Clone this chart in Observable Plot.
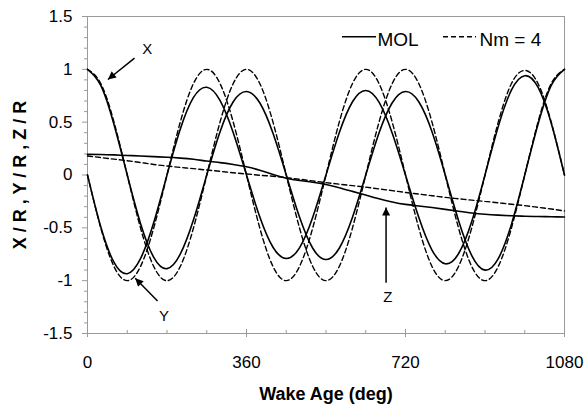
<!DOCTYPE html>
<html><head><meta charset="utf-8">
<script src="https://cdn.jsdelivr.net/npm/d3@7"></script>
<script src="https://cdn.jsdelivr.net/npm/@observablehq/plot@0.6"></script>
<style>
html,body{margin:0;padding:0;background:#fff;}
#chart{width:586px;height:407px;}
</style></head><body><div id="chart"></div>
<script>
const wakeAge = [0,30,60,90,120,150,180,210,240,270,300,330,360,390,420,450,480,510,540,570,600,630,660,690,720,750,780,810,840,870,900,930,960,990,1020,1050,1080];
const xMOL = [1.0,0.849,0.478,0,-0.458,-0.779,-0.886,-0.749,-0.424,0,0.408,0.693,0.79,0.684,0.395,0,-0.398,-0.693,-0.80,-0.693,-0.40,0,0.398,0.684,0.79,0.693,0.41,0,-0.43,-0.762,-0.90,-0.792,-0.465,0,0.48,0.849,1.0];
const yMOL = [0,-0.49,-0.827,-0.934,-0.792,-0.45,0,0.433,0.734,0.83,0.706,0.40,0,-0.395,-0.684,-0.79,-0.689,-0.40,0,0.40,0.693,0.80,0.689,0.395,0,-0.40,-0.71,-0.84,-0.745,-0.44,0,0.458,0.805,0.94,0.831,0.49,0];
const zMOL = [0.195,0.194,0.19,0.185,0.18,0.174,0.168,0.16,0.149,0.132,0.117,0.10,0.078,0.045,0.005,-0.03,-0.052,-0.068,-0.09,-0.12,-0.155,-0.19,-0.225,-0.255,-0.278,-0.293,-0.308,-0.325,-0.343,-0.36,-0.372,-0.38,-0.386,-0.39,-0.393,-0.395,-0.397];
const xNm4 = [1,0.866,0.5,0,-0.5,-0.866,-1,-0.866,-0.5,0,0.5,0.866,1,0.866,0.5,0,-0.5,-0.866,-1,-0.866,-0.5,0,0.5,0.866,1,0.866,0.5,0,-0.5,-0.866,-1,-0.866,-0.5,0,0.5,0.866,1];
const yNm4 = [0,-0.5,-0.866,-1,-0.866,-0.5,0,0.5,0.866,1,0.866,0.5,0,-0.5,-0.866,-1,-0.866,-0.5,0,0.5,0.866,1,0.866,0.5,0,-0.5,-0.866,-1,-0.866,-0.5,0,0.5,0.866,0.99,0.866,0.5,0];
const zNm4 = [0.18,0.165,0.15,0.135,0.118,0.10,0.085,0.072,0.06,0.047,0.035,0.021,0.01,-0.002,-0.012,-0.025,-0.04,-0.056,-0.072,-0.087,-0.101,-0.115,-0.132,-0.148,-0.165,-0.18,-0.196,-0.212,-0.225,-0.238,-0.25,-0.263,-0.277,-0.29,-0.306,-0.322,-0.34];

const seriesNames = ["MOL", "Nm = 4"];
const xMajor = [0, 360, 720, 1080];
const xMinor = [90,180,270,450,540,630,810,900,990];
const yMajor = [-1.5,-1,-0.5,0,0.5,1,1.5];
const yMinor = [-1.4,-1.3,-1.2,-1.1,-0.9,-0.8,-0.7,-0.6,-0.4,-0.3,-0.2,-0.1,0.1,0.2,0.3,0.4,0.6,0.7,0.8,0.9,1.1,1.2,1.3,1.4];

const annoLabels = ["X", "Y", "Z"];
const annoTextAge = [135, 173, 680];
const annoTextVal = [1.19, -1.338, -1.155];
const arrowFromAge = [106.5, 158.6, 676];
const arrowFromVal = [1.106, -1.193, -1.019];
const arrowToAge = [46.2, 108.1, 676];
const arrowToVal = [0.904, -0.977, -0.307];

const rows = [];
wakeAge.forEach((a, i) => {
  rows.push({age: a, v: xMOL[i], s: seriesNames[0], c: "X"});
  rows.push({age: a, v: yMOL[i], s: seriesNames[0], c: "Y"});
  rows.push({age: a, v: zMOL[i], s: seriesNames[0], c: "Z"});
  rows.push({age: a, v: xNm4[i], s: seriesNames[1], c: "X"});
  rows.push({age: a, v: yNm4[i], s: seriesNames[1], c: "Y"});
  rows.push({age: a, v: zNm4[i], s: seriesNames[1], c: "Z"});
});
const arrows = annoLabels.map((l, i) => ({x1: arrowFromAge[i], y1: arrowFromVal[i], x2: arrowToAge[i], y2: arrowToVal[i]}));

const grey = "#9a9a9a";
const svg = Plot.plot({
  width: 586, height: 407,
  marginLeft: 87, marginRight: 22, marginTop: 16, marginBottom: 74,
  style: {fontFamily: "Liberation Sans, Arial, sans-serif", fontSize: "17px", background: "white", color: "black"},
  x: {domain: [0, 1080], label: null},
  y: {domain: [-1.5, 1.5], label: null},
  marks: [
    Plot.frame({stroke: grey}),
    Plot.axisY({ticks: yMinor, tickSize: 3, tickFormat: () => "", stroke: grey, label: null}),
    Plot.axisY({ticks: yMajor, tickSize: 5, tickPadding: 10, tickFormat: d => String(d), stroke: grey, fontSize: 17, label: null}),
    Plot.axisX({ticks: xMajor, tickSize: 4, tickPadding: 18, tickFormat: d => String(d), stroke: grey, fontSize: 17, label: null}),
    Plot.tickX(xMajor, {x: d => d, insetTop: 313, stroke: grey}),
    Plot.tickX(xMinor, {x: d => d, insetTop: 314, stroke: grey}),
    Plot.line(rows.filter(d => d.s === seriesNames[1]), {x: "age", y: "v", z: "c", curve: "natural", stroke: "black", strokeWidth: 1.4, strokeDasharray: "5,3"}),
    Plot.line(rows.filter(d => d.s === seriesNames[0]), {x: "age", y: "v", z: "c", curve: "natural", stroke: "black", strokeWidth: 1.6}),
    Plot.link(arrows, {x1: "x1", y1: "y1", x2: "x2", y2: "y2", stroke: "black", strokeWidth: 1.5}),
    Plot.text(annoLabels, {x: (d, i) => annoTextAge[i], y: (d, i) => annoTextVal[i], text: d => d, fontSize: 15, fill: "black"}),
    Plot.text(["Wake Age (deg)"], {frameAnchor: "bottom", dy: 60.5, lineAnchor: "middle", textAnchor: "middle", fontWeight: "bold", fontSize: 18, fill: "black"}),
    Plot.text(["X / R , Y / R , Z / R"], {frameAnchor: "left", rotate: -90, dx: -67.5, lineAnchor: "middle", textAnchor: "middle", fontWeight: "bold", fontSize: 18, fill: "black"})
  ]
});

const s = d3.select(svg);
s.append("defs").append("marker")
  .attr("id", "ah").attr("viewBox", "0 0 10 10").attr("refX", 10).attr("refY", 5)
  .attr("markerWidth", 10).attr("markerHeight", 8).attr("markerUnits", "userSpaceOnUse")
  .attr("orient", "auto")
  .append("path").attr("d", "M0,0L10,5L0,10Z").attr("fill", "black");
s.selectAll('g[aria-label="link"] path, g[aria-label="link"] line').attr("marker-end", "url(#ah)");

const lg = s.append("g").attr("font-family", "Liberation Sans, Arial, sans-serif").attr("font-size", 19).attr("text-anchor", "start");
lg.append("line").attr("x1", 342).attr("x2", 376).attr("y1", 36.7).attr("y2", 36.7).attr("stroke", "black").attr("stroke-width", 1.5);
lg.append("text").attr("x", 377.5).attr("y", 46).attr("text-anchor", "start").text(seriesNames[0]);
lg.append("line").attr("x1", 443).attr("x2", 476).attr("y1", 36.7).attr("y2", 36.7).attr("stroke", "black").attr("stroke-width", 1.4).attr("stroke-dasharray", "5,3");
lg.append("text").attr("x", 479.5).attr("y", 46).attr("text-anchor", "start").text(seriesNames[1]);

document.getElementById("chart").appendChild(svg);
</script></body></html>
